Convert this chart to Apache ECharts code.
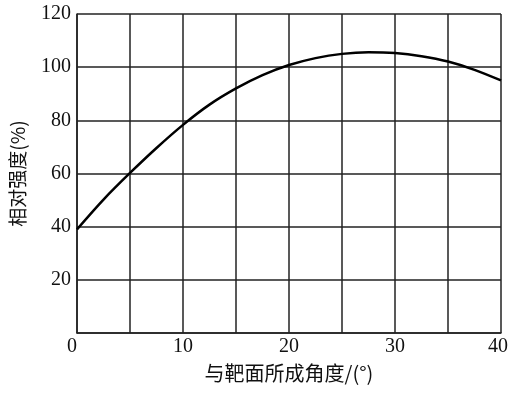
<!DOCTYPE html>
<html>
<head>
<meta charset="utf-8">
<script src="https://cdn.jsdelivr.net/npm/echarts@6/dist/echarts.min.js"></script>
<style>html,body{margin:0;padding:0;background:#fff}#c{width:508px;height:394px}</style>
</head>
<body>
<div id="c"></div>
<script>
const angles = [0, 2.5, 5, 7.5, 10, 12.5, 15, 17.5, 20, 22.5, 25, 27.5, 30, 32.5, 35, 37.5, 40];
const intensity = [39, 50.2, 60.2, 69.6, 78.3, 85.9, 92.0, 97.0, 100.8, 103.4, 105.0, 105.6, 105.3, 104.1, 102.1, 99.0, 95.0];
const xName = '与靶面所成角度/(°)';
const yName = '相对强度(%)';

const chart = echarts.init(document.getElementById('c'));
const numFont = 'Liberation Serif';
const cjkFont = '"Noto Sans CJK SC", "Liberation Serif"';
chart.setOption({
  animation: false,
  grid: {left: 77, right: 7, top: 14, bottom: 61, outerBoundsMode: 'none', containLabel: false},
  xAxis: {
    type: 'value', min: 0, max: 40, interval: 5,
    name: xName, nameLocation: 'middle', nameGap: 30,
    nameTextStyle: {fontFamily: cjkFont, fontSize: 20, color: '#111'},
    axisLine: {lineStyle: {color: '#222', width: 1.5}},
    axisTick: {show: false},
    splitLine: {show: true, lineStyle: {color: '#222', width: 1.5}},
    axisLabel: {
      fontFamily: numFont, fontSize: 20, color: '#111', margin: 4,
      alignMinLabel: 'right',
      formatter: v => (v % 10 === 0 ? (v === 40 ? '{m|40}' : String(v)) : ''),
      rich: {m: {fontFamily: numFont, fontSize: 20, color: '#111', padding: [0, 6, 0, 0]}}
    }
  },
  yAxis: {
    type: 'value', min: 0, max: 120, interval: 20,
    name: yName, nameLocation: 'middle', nameGap: 50,
    nameTextStyle: {fontFamily: cjkFont, fontSize: 19, color: '#111'},
    axisLine: {show: true, lineStyle: {color: '#222', width: 1.5}},
    axisTick: {show: false},
    splitLine: {show: true, lineStyle: {color: '#222', width: 1.5}},
    axisLabel: {
      fontFamily: numFont, fontSize: 20, color: '#111', margin: 6,
      formatter: v => (v === 0 ? '' : String(v))
    }
  },
  series: [{
    type: 'line', data: angles.map((a, i) => [a, intensity[i]]),
    smooth: 0.3, showSymbol: false,
    lineStyle: {color: '#000', width: 2.5}
  }]
});
</script>
</body>
</html>
